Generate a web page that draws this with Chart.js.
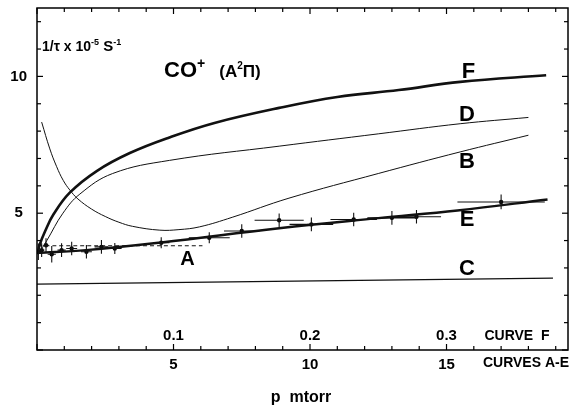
<!DOCTYPE html>
<html>
<head>
<meta charset="utf-8">
<script src="https://cdn.jsdelivr.net/npm/chart.js@4.4.0/dist/chart.umd.min.js"></script>
<style>
  html, body { margin: 0; padding: 0; background: #fff; }
  #wrap { width: 572px; height: 409px; }
</style>
</head>
<body>
<div id="wrap"><canvas id="chart"></canvas></div>
<script>
// p in mtorr (curves A-E scale), 1/tau in 10^5 s^-1
const curveF = [[0.02,3.5],[0.1,3.85],[0.3,4.35],[0.6,4.95],[1.2,5.75],[2.2,6.55],[3.4,7.2],[4.85,7.77],[6.5,8.3],[8.87,8.85],[11,9.25],[13.25,9.5],[15.5,9.8],[18.65,10.04]];
const curveD = [[0.05,3.5],[0.36,4.0],[0.95,5.0],[1.57,5.7],[2.77,6.45],[4.85,6.93],[8.87,7.45],[12.5,7.9],[15.5,8.27],[18.0,8.5]];
const curveB = [[0.17,8.33],[0.47,7.35],[0.72,6.7],[0.96,6.2],[1.2,5.85],[1.5,5.52],[2.0,5.15],[2.5,4.88],[3.0,4.67],[3.5,4.52],[4.5,4.38],[5.2,4.4],[5.95,4.5],[7.15,4.85],[9.23,5.55],[12.5,6.45],[15.5,7.24],[18.0,7.85]];
const curveE = [[0.02,3.55],[1.8,3.65],[4.55,3.93],[8.87,4.45],[12.5,4.82],[15.4,5.1],[18.7,5.5]];
const curveA = [[0.04,3.81],[6.06,3.81]];
const curveC = [[0,2.41],[18.9,2.63]];

// measured points with error bars
const pointX = [0.05,0.17,0.33,0.54,0.9,1.27,1.81,2.36,2.85,4.55,6.31,7.5,8.87,10.05,11.6,13.0,13.9,17.0];
const pointY = [3.59,3.65,3.83,3.5,3.65,3.71,3.59,3.77,3.71,3.92,4.1,4.35,4.74,4.59,4.77,4.83,4.87,5.41];
const errX   = [0.05,0.1,0.1,0.15,0.15,0.2,0.2,0.25,0.25,0.3,0.75,0.65,0.9,0.8,0.85,0.9,0.9,1.6];
const errY   = [0.3,0.25,0.25,0.3,0.25,0.25,0.25,0.25,0.2,0.2,0.2,0.25,0.25,0.25,0.25,0.25,0.25,0.27];

// axis labels
const xLabels = [5, 10, 15];           // curves A-E
const fLabels = ['0.1', '0.2', '0.3']; // curve F, same positions
const yLabels = [5, 10];

const xy = arr => arr.map(p => ({x: p[0], y: p[1]}));

const hBars = [], vBars = [];
pointX.forEach((px, i) => {
  hBars.push({x: px - errX[i], y: pointY[i]}, {x: px + errX[i], y: pointY[i]}, {x: px, y: null});
  vBars.push({x: px, y: pointY[i] - errY[i]}, {x: px, y: pointY[i] + errY[i]}, {x: px, y: null});
});

const FONT = '"Liberation Sans", Arial, sans-serif';

function line(ctx, x1, y1, x2, y2) {
  ctx.beginPath(); ctx.moveTo(x1, y1); ctx.lineTo(x2, y2); ctx.stroke();
}

// draws pieces [text, size, raise] one after another
function rich(ctx, x, y, parts) {
  ctx.textAlign = 'left';
  ctx.textBaseline = 'alphabetic';
  parts.forEach(([t, size, up]) => {
    ctx.font = 'bold ' + size + 'px ' + FONT;
    ctx.fillText(t, x, y - up);
    x += ctx.measureText(t).width;
  });
}

const decor = {
  id: 'decor',
  afterDraw(chart) {
    const {ctx, chartArea: a, scales: {x, y}} = chart;
    ctx.save();
    ctx.strokeStyle = '#000';
    ctx.fillStyle = '#000';
    ctx.lineWidth = 1.5;
    ctx.strokeRect(a.left, a.top, a.right - a.left, a.bottom - a.top);

    ctx.lineWidth = 1.2;
    x.ticks.forEach(t => {
      const px = x.getPixelForValue(t.value);
      const len = t.value % 5 === 0 ? 6 : 4;
      line(ctx, px, a.bottom, px, a.bottom - len);
      line(ctx, px, a.top, px, a.top + len);
    });
    y.ticks.forEach(t => {
      const py = y.getPixelForValue(t.value);
      const len = t.value % 5 === 0 ? 6 : 4;
      line(ctx, a.left, py, a.left + len, py);
      line(ctx, a.right, py, a.right - len, py);
    });

    ctx.textAlign = 'center';
    ctx.textBaseline = 'middle';
    ctx.font = 'bold 15px ' + FONT;
    xLabels.forEach((v, i) => ctx.fillText(fLabels[i], x.getPixelForValue(v), a.bottom - 14));
    ctx.font = 'bold 14px ' + FONT;
    ctx.fillText('CURVE  F', 517, a.bottom - 14);
    ctx.fillText('CURVES A-E', 526, a.bottom + 13);
    ctx.font = 'bold 16px ' + FONT;
    ctx.fillText('p  mtorr', 301, 398);

    ctx.font = 'bold 22px ' + FONT;
    [['F', 15.8, 10.15], ['D', 15.75, 8.58], ['B', 15.75, 6.86], ['E', 15.75, 4.75], ['C', 15.75, 2.96]]
      .forEach(([t, vx, vy]) => ctx.fillText(t, x.getPixelForValue(vx), y.getPixelForValue(vy)));
    ctx.font = 'bold 20px ' + FONT;
    ctx.fillText('A', x.getPixelForValue(5.51), y.getPixelForValue(3.32));

    rich(ctx, 164, 77, [['CO', 22, 0], ['+', 14, 9], ['   (A', 17, 0], ['2', 10, 8], ['Π)', 17, 0]]);
    rich(ctx, 42, 51, [['1/τ x 10', 14, 0], ['-5', 9, 6], [' S', 15, 0], ['-1', 9, 6]]);
    ctx.restore();
  }
};

const base = {showLine: true, pointRadius: 0, borderColor: '#111', tension: 0.4};

new Chart('chart', {
  type: 'scatter',
  data: {
    datasets: [
      {...base, data: xy(curveF), borderWidth: 2.6},
      {...base, data: xy(curveD), borderWidth: 1},
      {...base, data: xy(curveB), borderWidth: 1},
      {...base, data: xy(curveE), borderWidth: 2.4},
      {...base, data: xy(curveA), borderWidth: 1, borderDash: [4, 3]},
      {...base, data: xy(curveC), borderWidth: 1.3},
      {...base, data: hBars, tension: 0, borderWidth: 1.1, spanGaps: false},
      {...base, data: vBars, tension: 0, borderWidth: 1.1, spanGaps: false},
      {data: pointX.map((v, i) => ({x: v, y: pointY[i]})), pointRadius: 2.2,
       pointBackgroundColor: '#000', pointBorderColor: '#000', pointBorderWidth: 0}
    ]
  },
  options: {
    responsive: true,
    maintainAspectRatio: false,
    animation: false,
    layout: {padding: {top: 8, right: 2, left: 0, bottom: 0}},
    plugins: {legend: {display: false}, tooltip: {enabled: false}},
    scales: {
      x: {
        type: 'linear', min: 0, max: 19.45,
        grid: {display: false, drawTicks: false},
        border: {display: false},
        afterFit: s => { s.height = 59; s.paddingLeft = 0; s.paddingRight = 0; },
        ticks: {
          stepSize: 1, includeBounds: false, autoSkip: false, maxRotation: 0, padding: 6,
          color: '#000', font: {family: FONT, size: 15, weight: 'bold'},
          callback: v => xLabels.includes(v) ? String(v) : ''
        }
      },
      y: {
        min: 0, max: 12.5,
        grid: {display: false, drawTicks: false},
        border: {display: false},
        afterFit: s => { s.width = 37; s.paddingTop = 0; s.paddingBottom = 0; },
        ticks: {
          stepSize: 1, includeBounds: false, autoSkip: false, padding: 10, crossAlign: 'center',
          color: '#000', font: {family: FONT, size: 15, weight: 'bold'},
          callback: v => yLabels.includes(v) ? String(v) : ''
        }
      }
    }
  },
  plugins: [decor]
});
</script>
</body>
</html>
